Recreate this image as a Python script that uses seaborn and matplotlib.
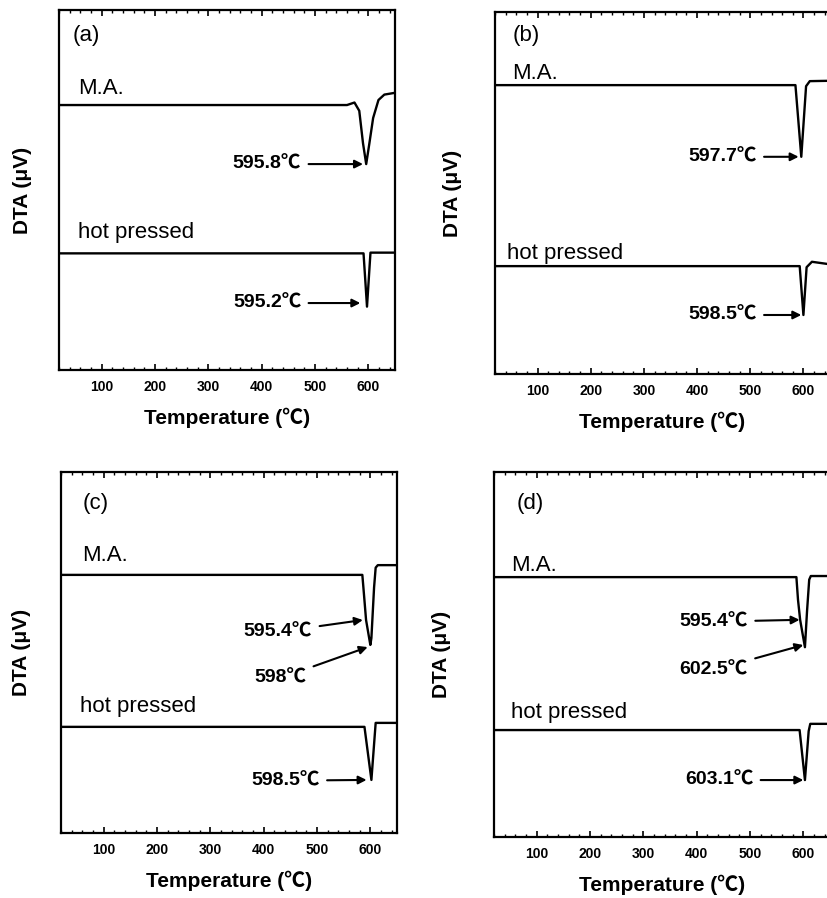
import matplotlib
matplotlib.use("Agg")
import matplotlib.pyplot as plt
from matplotlib.ticker import MultipleLocator
import seaborn as sns

# ---------------- data ----------------
panel_letters = ["(a)", "(b)", "(c)", "(d)"]
x_ticks = [100, 200, 300, 400, 500, 600]

a_ma_x = [20, 560, 574, 583, 590, 596, 602, 609, 619, 630, 650]
a_ma_y = [73.6, 73.6, 74.3, 72.0, 63.0, 57.2, 63.0, 70.0, 75.0, 76.5, 77.0]
a_hp_x = [20, 591, 597.5, 604, 650]
a_hp_y = [32.4, 32.4, 17.6, 32.6, 32.6]

b_ma_x = [20, 585, 596, 605, 612, 650]
b_ma_y = [79.8, 79.8, 60.0, 79.5, 80.9, 81.0]
b_hp_x = [20, 593, 600, 606, 616, 650]
b_hp_y = [29.8, 29.8, 16.3, 29.5, 31.0, 30.3]

c_ma_x = [20, 585, 587, 592, 600, 602, 607, 610, 614, 650]
c_ma_y = [71.5, 71.5, 68.0, 59.0, 52.1, 54.0, 68.0, 73.5, 74.2, 74.2]
c_hp_x = [20, 589, 602, 610, 650]
c_hp_y = [29.4, 29.4, 14.7, 30.5, 30.5]

d_ma_x = [20, 587, 590, 594, 603, 607, 611, 614, 650]
d_ma_y = [71.2, 71.2, 65.0, 59.5, 52.0, 62.0, 70.5, 71.5, 71.5]
d_hp_x = [20, 593, 603, 610, 613, 650]
d_hp_y = [29.3, 29.3, 15.6, 29.0, 31.0, 31.0]

# annotations: text, text (right edge) x, text y, arrow tip x, arrow tip y
a_notes = [("595.8℃", 474, 57.2, 590, 57.2), ("595.2℃", 474, 18.6, 585, 18.6)]
b_notes = [("597.7℃", 512, 60.0, 591, 60.0), ("598.5℃", 512, 16.3, 596, 16.3)]
c_notes = [("595.4℃", 491, 55.7, 586, 59.0), ("598℃", 480, 42.9, 595, 51.5),
           ("598.5℃", 505, 14.5, 593, 14.7)]
d_notes = [("595.4℃", 496, 59.0, 593, 59.5), ("602.5℃", 496, 45.8, 600, 52.6),
           ("603.1℃", 506, 15.6, 600, 15.6)]

# label positions: letter (x,y), M.A. (x,y), hot pressed (x,y)
a_labels = [(46, 93.0), (56, 78.3), (56, 38.3)]
b_labels = [(54, 93.6), (52, 83.1), (43, 33.4)]
c_labels = [(61, 91.4), (59, 77.0), (56, 35.0)]
d_labels = [(63, 91.5), (53, 74.5), (51, 34.0)]

sns.set_theme(style="white")
plt.rcParams["font.family"] = ["Liberation Sans", "Noto Sans CJK SC", "DejaVu Sans"]
plt.rcParams["text.color"] = "black"
plt.rcParams["axes.labelcolor"] = "black"
plt.rcParams["xtick.color"] = "black"
plt.rcParams["ytick.color"] = "black"

fig = plt.figure(figsize=(8.27, 8.98), dpi=100)

positions = [
    [59 / 827, 1 - 370 / 898, 336 / 827, 360 / 898],
    [495 / 827, 1 - 374 / 898, 335 / 827, 362 / 898],
    [61 / 827, 1 - 833 / 898, 336 / 827, 361 / 898],
    [494 / 827, 1 - 837 / 898, 336 / 827, 365 / 898],
]
ylabel_x = [-0.08, -0.098, -0.089, -0.128]

panels = [
    (a_ma_x, a_ma_y, a_hp_x, a_hp_y, a_notes, a_labels),
    (b_ma_x, b_ma_y, b_hp_x, b_hp_y, b_notes, b_labels),
    (c_ma_x, c_ma_y, c_hp_x, c_hp_y, c_notes, c_labels),
    (d_ma_x, d_ma_y, d_hp_x, d_hp_y, d_notes, d_labels),
]

for i, (mx, my, hx, hy, notes, labels) in enumerate(panels):
    ax = fig.add_axes(positions[i])
    sns.lineplot(x=mx, y=my, ax=ax, color="black", lw=1.7, sort=False)
    sns.lineplot(x=hx, y=hy, ax=ax, color="black", lw=1.7, sort=False)
    ax.set_xlim(20, 650)
    ax.set_ylim(0, 100)
    ax.set_xticks(x_ticks)
    ax.set_xticklabels([str(t) for t in x_ticks], fontsize=10, fontweight="bold",
                       color="black")
    ax.xaxis.set_minor_locator(MultipleLocator(20))
    ax.set_yticks([])
    ax.tick_params(axis="x", which="major", direction="in", length=4, width=1.2,
                   top=True, bottom=True, pad=7, colors="black")
    ax.tick_params(axis="x", which="minor", direction="in", length=2, width=1.0,
                   top=True, bottom=True, colors="black")
    for sp in ax.spines.values():
        sp.set_visible(True)
        sp.set_linewidth(1.6)
        sp.set_color("black")
    ax.set_xlabel("Temperature (℃)", fontsize=15, fontweight="bold", labelpad=10,
                  color="black")
    ax.set_ylabel("DTA (μV)", fontsize=15, fontweight="bold", color="black")
    ax.yaxis.set_label_coords(ylabel_x[i], 0.5)

    (lx, ly), (max_, may), (hpx, hpy) = labels
    ax.text(lx, ly, panel_letters[i], fontsize=16, ha="left", va="center", color="black")
    ax.text(max_, may, "M.A.", fontsize=16, ha="left", va="center", color="black")
    ax.text(hpx, hpy, "hot pressed", fontsize=16, ha="left", va="center", color="black")

    for txt, tx, ty, px, py in notes:
        ax.annotate(txt, xy=(px, py), xytext=(tx, ty), ha="right", va="center",
                    fontsize=14, fontweight="bold", color="black",
                    arrowprops=dict(arrowstyle="-|>", color="black", lw=1.5,
                                    shrinkA=3, shrinkB=0, mutation_scale=12))

fig.savefig("out.png", dpi=100)
